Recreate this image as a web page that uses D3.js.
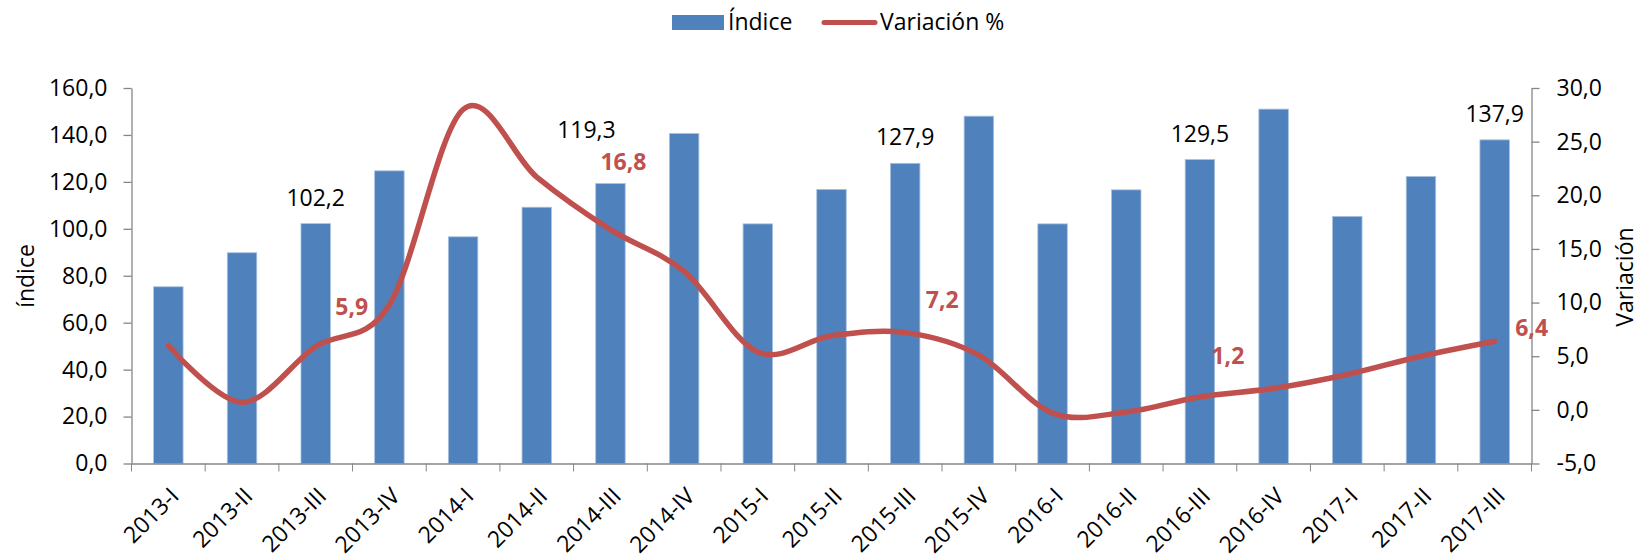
<!DOCTYPE html>
<html>
<head>
<meta charset="utf-8">
<script src="https://cdn.jsdelivr.net/npm/d3@7"></script>
<style>
  body { margin: 0; background: #fff; }
  text { font-family: "Open Sans", sans-serif; }
</style>
</head>
<body>
<svg id="chart"></svg>
<script>
// trimestres
var categories = ["2013-I", "2013-II", "2013-III", "2013-IV", "2014-I", "2014-II", "2014-III", "2014-IV",
  "2015-I", "2015-II", "2015-III", "2015-IV", "2016-I", "2016-II", "2016-III", "2016-IV",
  "2017-I", "2017-II", "2017-III"]

// Índice (eje izquierdo)
var indice = [75.3, 89.8, 102.2, 124.7, 96.6, 109.2, 119.3, 140.6, 102.1, 116.8,
  127.9, 148.0, 102.1, 116.6, 129.5, 151.0, 105.3, 122.3, 137.9]

// Variación % (eje derecho)
var variacion = [6.0, 0.7, 5.9, 9.8, 28.0, 21.7, 16.8, 12.9, 5.4, 6.9,
  7.2, 5.1, -0.3, -0.2, 1.2, 2.0, 3.3, 5.0, 6.4]

var leftTicks = [0, 20, 40, 60, 80, 100, 120, 140, 160]
var rightTicks = [-5, 0, 5, 10, 15, 20, 25, 30]
var labeled = [2, 6, 10, 14, 18]

var dimensions = {
  width: 1641,
  height: 559,
  margin: { top: 88, bottom: 95.5, left: 131.5, right: 109.5 }
}

var blue = "#4F81BD"
var red = "#C0504D"
var grey = "#868686"
var fmt = d => d.toFixed(1).replace(".", ",")

var svg = d3.select("#chart")
  .attr("width", dimensions.width)
  .attr("height", dimensions.height)

var bottomY = dimensions.height - dimensions.margin.bottom
var rightX = dimensions.width - dimensions.margin.right

var xScale = d3.scaleBand()
  .domain(categories)
  .range([dimensions.margin.left, rightX])
  .padding(0)

var yLeft = d3.scaleLinear()
  .domain([0, 160])
  .range([bottomY, dimensions.margin.top])

var yRight = d3.scaleLinear()
  .domain([-5, 30])
  .range([bottomY, dimensions.margin.top])

var step = xScale.step()
var barW = step * 0.4

// barras
svg.append("g")
  .selectAll("rect")
  .data(indice)
  .enter().append("rect")
  .attr("x", (d, i) => xScale(categories[i]) + (step - barW) / 2)
  .attr("y", d => yLeft(d))
  .attr("width", barW)
  .attr("height", d => bottomY - yLeft(d))
  .attr("fill", blue)
  .attr("stroke", "#A9C1DF")
  .attr("stroke-width", 0.8)

// ejes
var leftAxis = svg.append("g")
  .attr("transform", `translate(${dimensions.margin.left},0)`)
  .call(d3.axisLeft(yLeft).tickValues(leftTicks).tickFormat(fmt).tickSize(8).tickSizeOuter(0).tickPadding(16))

var rightAxis = svg.append("g")
  .attr("transform", `translate(${rightX},0)`)
  .call(d3.axisRight(yRight).tickValues(rightTicks).tickFormat(fmt).tickSize(8).tickSizeOuter(0).tickPadding(17))

var xAxis = svg.append("g")
  .attr("transform", `translate(0,${bottomY})`)
  .call(d3.axisBottom(xScale).tickSize(0).tickFormat(""))

// marcas entre categorías
svg.append("g")
  .selectAll("line")
  .data(d3.range(categories.length + 1))
  .enter().append("line")
  .attr("x1", i => dimensions.margin.left + i * step)
  .attr("x2", i => dimensions.margin.left + i * step)
  .attr("y1", bottomY)
  .attr("y2", bottomY + 8)
  .attr("stroke", grey)

svg.selectAll(".domain, .tick line").attr("stroke", grey).attr("stroke-width", 1.3)
svg.selectAll(".tick text").attr("font-size", 23).attr("fill", "#000").style("font-family", "Open Sans")

// etiquetas del eje x
svg.append("g")
  .selectAll("text")
  .data(categories)
  .enter().append("text")
  .attr("transform", d => `translate(${xScale(d) + step / 2 + 12},${bottomY + 34}) rotate(-45)`)
  .attr("text-anchor", "end")
  .attr("font-size", 23)
  .text(d => d)

// línea suavizada
var line = d3.line()
  .x((d, i) => xScale(categories[i]) + step / 2)
  .y(d => yRight(d))
  .curve(d3.curveCardinal.tension(0))

svg.append("path")
  .datum(variacion)
  .attr("d", line)
  .attr("fill", "none")
  .attr("stroke", red)
  .attr("stroke-width", 5.5)
  .attr("stroke-linecap", "round")

// etiquetas de datos
var barNudge = { 6: [-24, -28] }
svg.append("g")
  .selectAll("text")
  .data(labeled)
  .enter().append("text")
  .attr("x", i => xScale(categories[i]) + step / 2 + (barNudge[i] ? barNudge[i][0] : 0))
  .attr("y", i => yLeft(indice[i]) - 18 + (barNudge[i] ? barNudge[i][1] : 0))
  .attr("text-anchor", "middle")
  .attr("font-size", 23)
  .text(i => fmt(indice[i]))

var lineNudge = { 2: [36, -32], 6: [13, -60], 10: [37, -25], 14: [28, -33], 18: [37, -5] }
svg.append("g")
  .selectAll("text")
  .data(labeled)
  .enter().append("text")
  .attr("x", i => xScale(categories[i]) + step / 2 + lineNudge[i][0])
  .attr("y", i => yRight(variacion[i]) + lineNudge[i][1])
  .attr("text-anchor", "middle")
  .attr("font-size", 23)
  .attr("font-weight", "bold")
  .attr("fill", red)
  .text(i => fmt(variacion[i]))

// títulos de ejes
svg.append("text")
  .attr("transform", "translate(34,276) rotate(-90)")
  .attr("text-anchor", "middle")
  .attr("font-size", 23)
  .text("índice")

svg.append("text")
  .attr("transform", "translate(1633,277) rotate(-90)")
  .attr("text-anchor", "middle")
  .attr("font-size", 23)
  .text("Variación")

// leyenda
var legend = svg.append("g")
legend.append("rect")
  .attr("x", 672).attr("y", 15).attr("width", 52).attr("height", 15)
  .attr("fill", blue)
legend.append("text")
  .attr("x", 728).attr("y", 30)
  .attr("font-size", 23)
  .text("Índice")
legend.append("line")
  .attr("x1", 824).attr("x2", 875).attr("y1", 22.5).attr("y2", 22.5)
  .attr("stroke", red).attr("stroke-width", 5).attr("stroke-linecap", "round")
legend.append("text")
  .attr("x", 880).attr("y", 30)
  .attr("font-size", 23)
  .text("Variación %")
</script>
</body>
</html>
